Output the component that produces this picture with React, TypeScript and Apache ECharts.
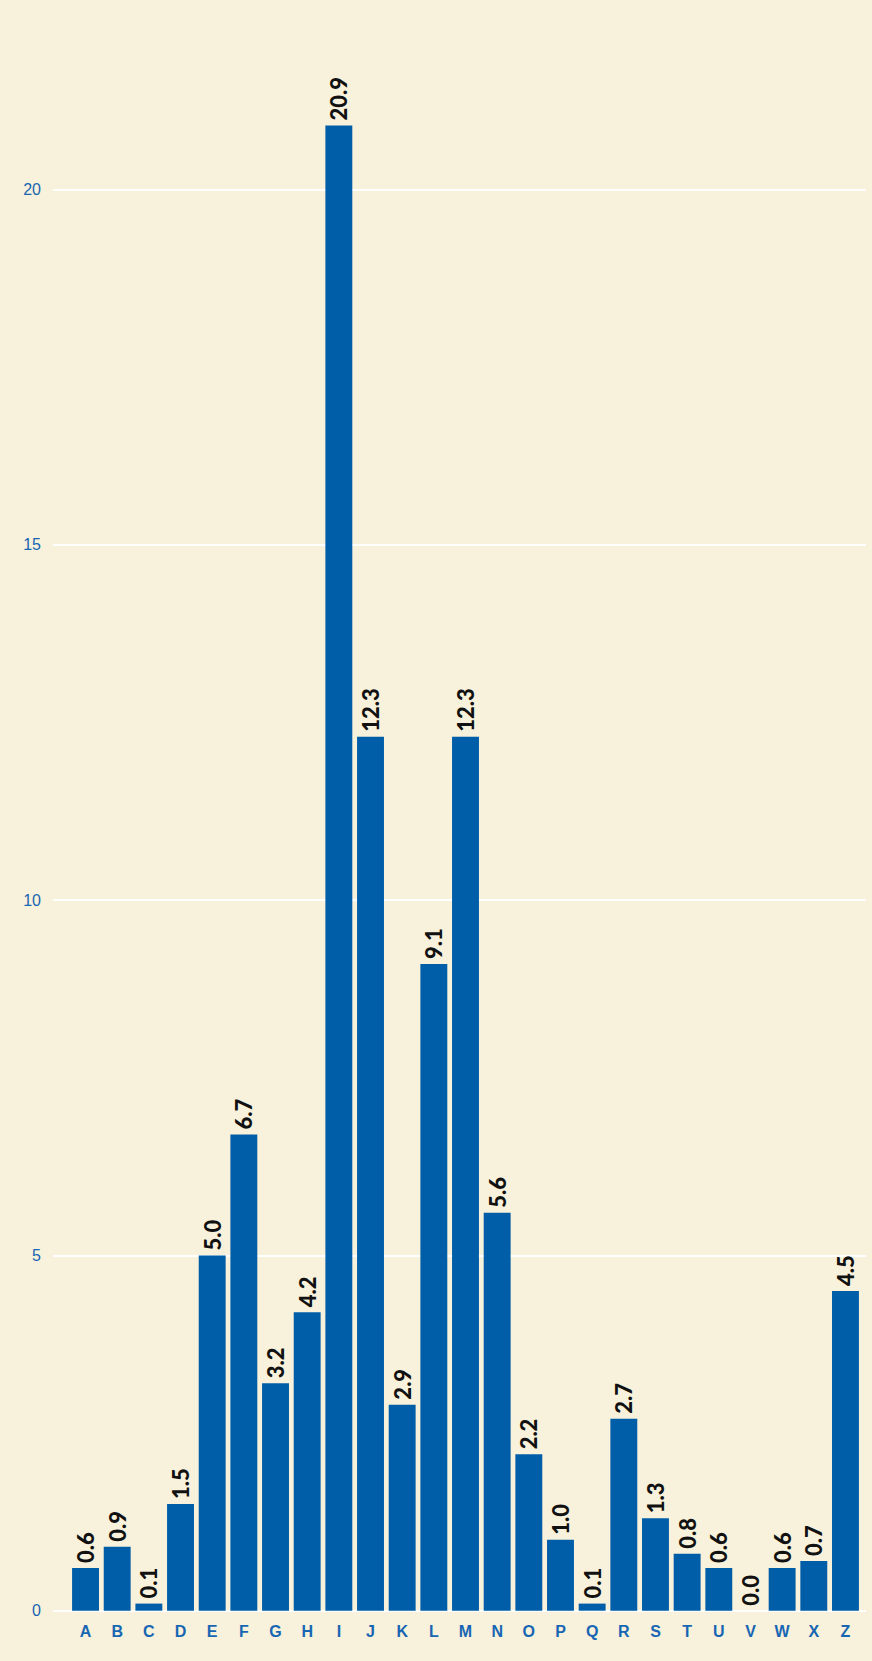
import React, { useEffect, useRef } from "react";
import * as echarts from "echarts";

const categories = ["A","B","C","D","E","F","G","H","I","J","K","L","M","N","O","P","Q","R","S","T","U","V","W","X","Z"];
const values = [0.6,0.9,0.1,1.5,5.0,6.7,3.2,4.2,20.9,12.3,2.9,9.1,12.3,5.6,2.2,1.0,0.1,2.7,1.3,0.8,0.6,0.0,0.6,0.7,4.5];
const yMin = 0;
const yMax = 21;
const yInterval = 5;

const BG = "#f8f1db";
const BAR = "#005ea9";
const AXIS_TEXT = "#1766b3";

export default function App() {
  const ref = useRef<HTMLDivElement>(null);
  useEffect(() => {
    if (!ref.current) return;
    const chart = echarts.init(ref.current, undefined, { renderer: "svg" });
    const top = 118.5;
    const bottom = 50.3;
    chart.setOption({
      animation: false,
      backgroundColor: BG,
      grid: [
        { left: 53, right: 6, top, bottom },
        { left: 69.7, right: 10.7, top, bottom },
      ],
      xAxis: [
        { type: "value", gridIndex: 0, show: false, min: 0, max: 1 },
        {
          type: "category",
          gridIndex: 1,
          data: categories,
          axisLine: { show: false },
          axisTick: { show: false },
          axisLabel: {
            color: AXIS_TEXT,
            fontSize: 16,
            fontWeight: "bold",
            fontFamily: "Liberation Sans, Arial, sans-serif",
            margin: 13,
            interval: 0,
          },
        },
      ],
      yAxis: [
        {
          type: "value",
          gridIndex: 0,
          min: yMin,
          max: yMax,
          interval: yInterval,
          axisLine: { show: false },
          axisTick: { show: false },
          axisLabel: {
            color: AXIS_TEXT,
            fontSize: 16,
            fontFamily: "Liberation Sans, Arial, sans-serif",
            margin: 12,
            showMaxLabel: false,
            formatter: (v: number) => (v % yInterval === 0 ? String(v) : ""),
          },
          splitLine: {
            show: true,
            showMaxLine: false,
            lineStyle: { color: "#ffffff", width: 2 },
          },
        },
        {
          type: "value",
          gridIndex: 1,
          min: yMin,
          max: yMax,
          interval: yInterval,
          show: false,
          splitLine: { show: false },
        },
      ],
      series: [
        {
          type: "bar",
          xAxisIndex: 1,
          yAxisIndex: 1,
          data: values,
          barCategoryGap: "15%",
          itemStyle: { color: BAR },
          label: {
            show: true,
            position: "top",
            rotate: 90,
            align: "left",
            verticalAlign: "middle",
            distance: 5,
            color: "#111111",
            fontSize: 22,
            fontWeight: 900,
            fontFamily: "Lato, 'Noto Sans', sans-serif",
            formatter: (p: any) => Number(p.value).toFixed(1),
          },
        },
      ],
    });
    return () => chart.dispose();
  }, []);
  return (
    <div
      ref={ref}
      style={{ position: "absolute", left: 0, top: 0, width: 872, height: 1661 }}
    />
  );
}
